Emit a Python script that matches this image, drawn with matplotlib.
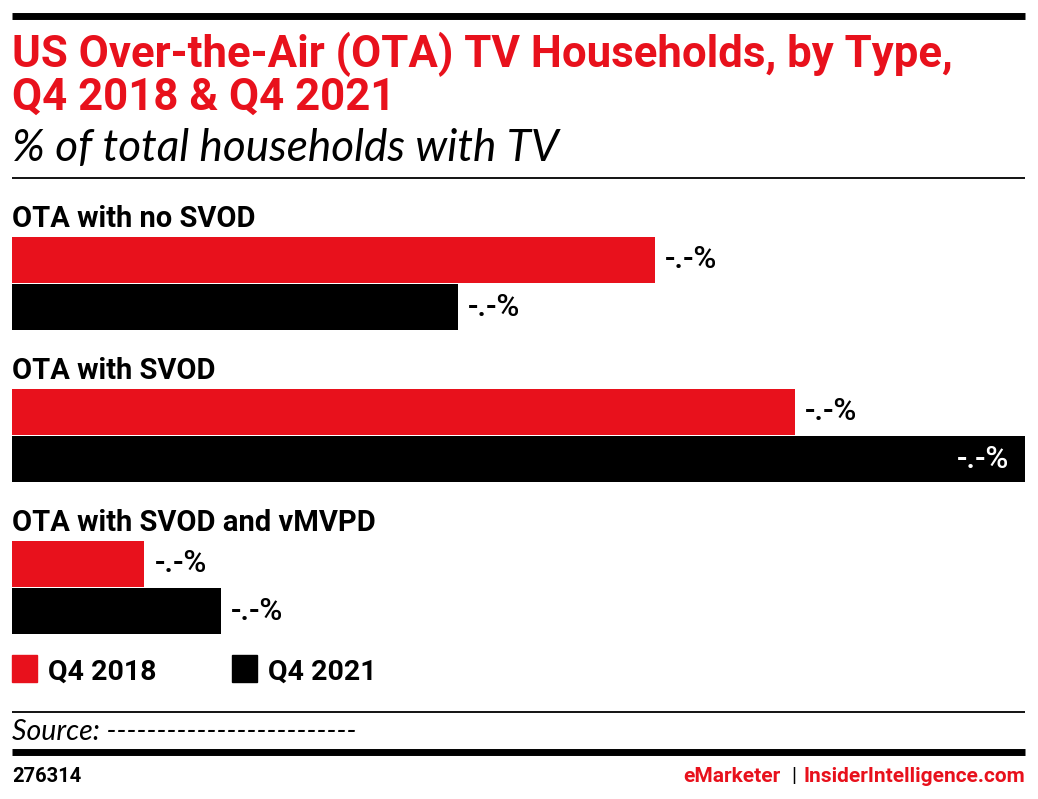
import matplotlib
matplotlib.use("Agg")
import matplotlib.pyplot as plt
from matplotlib.lines import Line2D
from matplotlib.patches import Rectangle

categories = ["OTA with no SVOD", "OTA with SVOD", "OTA with SVOD and vMVPD"]
series_names = ["Q4 2018", "Q4 2021"]
q4_2018 = [8.25, 10.05, 1.7]
q4_2021 = [5.72, 13.0, 2.68]
value_labels = ["-.-%", "-.-%", "-.-%"]

RED = "#E8111C"
BLACK = "#000000"
W, H = 1038, 799


def fx(px):
    return px / W


def fy(py):
    return 1 - py / H


fig = plt.figure(figsize=(W / 100, H / 100), dpi=100)


# frame lines
def hline(py, lw, x0=12, x1=1025):
    fig.add_artist(Line2D([fx(x0), fx(x1)], [fy(py), fy(py)], color=BLACK, lw=lw,
                          solid_capstyle="butt"))


hline(16, 5)
hline(178, 1.3)
hline(712, 1.3)
hline(752, 5)

fig.text(fx(12), fy(67), "US Over-the-Air (OTA) TV Households, by Type,", color=RED,
         family="Roboto", weight="bold", fontsize=31.5, va="baseline")
fig.text(fx(12), fy(110), "Q4 2018 & Q4 2021", color=RED,
         family="Roboto", weight="bold", fontsize=31.5, va="baseline")
fig.text(fx(12), fy(161), "% of total households with TV", color=BLACK,
         family="Lato", style="italic", fontsize=31.8, va="baseline")

# bars
ax = fig.add_axes([fx(12), fy(640), fx(1025) - fx(12), fy(200) - fy(640)])
ax.set_xlim(0, max(max(q4_2018), max(q4_2021)))
ax.set_ylim(640, 200)
ax.axis("off")

group_step = 152
bar_h = 46
xmax = ax.get_xlim()[1]
for i, cat in enumerate(categories):
    y_red = 260 + group_step * i
    y_blk = y_red + bar_h + 1
    ax.text(0, y_red - 33, cat, fontsize=21, weight="bold", family="Roboto",
            va="baseline", ha="left")
    for y, v, c in ((y_red, q4_2018[i], RED), (y_blk, q4_2021[i], BLACK)):
        ax.barh(y, v, height=bar_h, color=c, linewidth=0)
        if v > xmax * 0.9:
            ax.text(v - xmax * 0.016, y, value_labels[i], color="white", fontsize=22.5,
                    family="Roboto", weight="medium", va="center", ha="right")
        else:
            ax.text(v + xmax * 0.01, y, value_labels[i], color=BLACK, fontsize=22.5,
                    family="Roboto", weight="medium", va="center", ha="left")

# legend
for px, name, c in ((12, series_names[0], RED), (232, series_names[1], BLACK)):
    fig.add_artist(Rectangle((fx(px), fy(682)), fx(25), fy(655) - fy(682), color=c,
                             transform=fig.transFigure))
    fig.text(fx(px + 36), fy(680), name, fontsize=20.5, weight="bold", family="Roboto",
             va="baseline")

fig.text(fx(12), fy(740), "Source: -------------------------", fontsize=20.5,
         family="Lato", style="italic", va="baseline")
fig.text(fx(12), fy(782), "276314", fontsize=14.5, weight="bold", family="Roboto",
         va="baseline")
fig.text(fx(1025), fy(782), "InsiderIntelligence.com", fontsize=15, weight="bold",
         family="Roboto", color=RED, va="baseline", ha="right")
fig.text(fx(794), fy(782), "|", fontsize=15, family="Roboto", color=BLACK,
         va="baseline", ha="center")
fig.text(fx(781), fy(782), "eMarketer", fontsize=15, weight="bold", family="Roboto",
         color=RED, va="baseline", ha="right")

fig.savefig("out.png", dpi=100)
